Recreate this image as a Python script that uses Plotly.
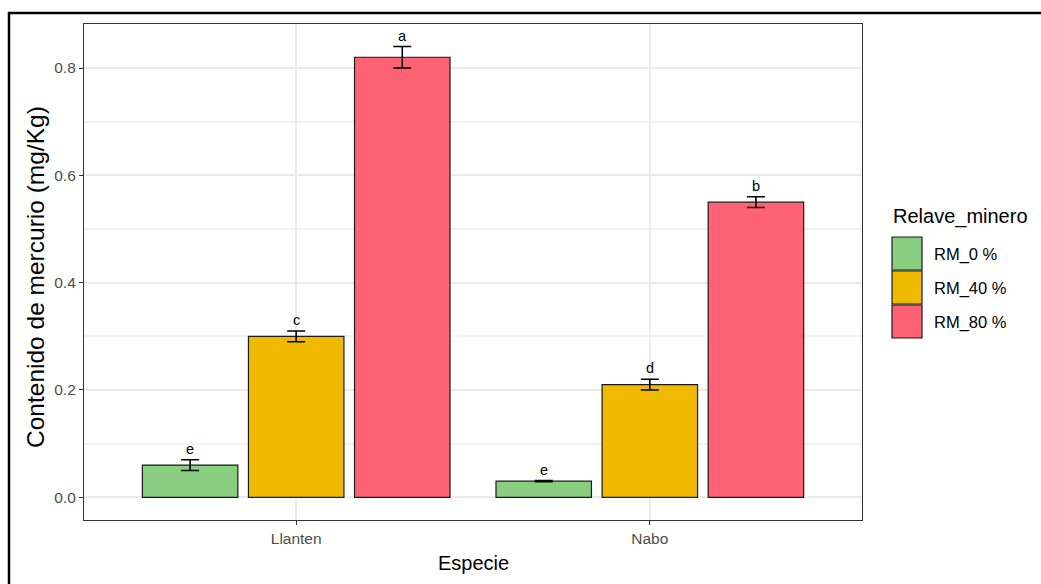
import plotly.graph_objects as go

# ---- data ----
especies = ["Llanten", "Nabo"]
grupos = ["RM_0 %", "RM_40 %", "RM_80 %"]
colores = ["#88CD80", "#F0BA00", "#FF6373"]
valores = {
    "RM_0 %": [0.06, 0.03],
    "RM_40 %": [0.30, 0.21],
    "RM_80 %": [0.82, 0.55],
}
errores = {
    "RM_0 %": [0.01, 0.001],
    "RM_40 %": [0.01, 0.01],
    "RM_80 %": [0.02, 0.01],
}
letras = {
    "RM_0 %": ["e", "e"],
    "RM_40 %": ["c", "d"],
    "RM_80 %": ["a", "b"],
}

FONT = "Liberation Sans, Arial, sans-serif"
W, H = 1041, 584
ML, MR, MT, MB = 84, 179, 24, 64
PW, PH = W - ML - MR, H - MT - MB


def px_x(px):
    return (px - ML) / PW


def px_y(py):
    return (H - MB - py) / PH


fig = go.Figure()
for g, c in zip(grupos, colores):
    fig.add_trace(go.Bar(
        x=especies, y=valores[g], name=g,
        marker=dict(color=c, line=dict(color="#1a1a1a", width=1.2)),
        error_y=dict(type="data", array=errores[g], color="black",
                     thickness=1.6, width=9),
        showlegend=False,
    ))

# significance letters above error bars
n = len(grupos)
slot = 0.9 / n
annotations = []
for j, g in enumerate(grupos):
    for i, e in enumerate(especies):
        annotations.append(dict(
            x=i + (j - (n - 1) / 2) * slot, y=valores[g][i] + errores[g][i],
            xref="x", yref="y", text=letras[g][i], showarrow=False,
            yanchor="bottom", yshift=1,
            font=dict(family=FONT, size=14.5, color="black"),
        ))

# axis titles
annotations.append(dict(x=0.5, y=px_y(563), xref="paper", yref="paper",
                        text="Especie", showarrow=False, yanchor="middle",
                        font=dict(family=FONT, size=20, color="black")))
annotations.append(dict(x=px_x(35), y=px_y(277), xref="paper", yref="paper",
                        text="Contenido de mercurio (mg/Kg)", showarrow=False,
                        textangle=-90, xanchor="center", yanchor="middle",
                        font=dict(family=FONT, size=24.5, color="black")))

# manual legend (ggplot style)
shapes = []
annotations.append(dict(x=px_x(891), y=px_y(216), xref="paper", yref="paper",
                        text="Relave_minero", showarrow=False,
                        xanchor="left", yanchor="middle",
                        font=dict(family=FONT, size=20, color="black")))
key_top, key_h, key_w = 237, 34, 30
for k, (g, c) in enumerate(zip(grupos, colores)):
    y0 = key_top + k * key_h
    shapes.append(dict(type="rect", xref="paper", yref="paper",
                       x0=px_x(892), x1=px_x(892 + key_w),
                       y0=px_y(y0 + key_h - 1), y1=px_y(y0),
                       fillcolor=c, line=dict(color="#1a1a1a", width=1.2)))
    annotations.append(dict(x=px_x(932), y=px_y(y0 + key_h / 2), xref="paper",
                            yref="paper", text=g, showarrow=False,
                            xanchor="left", yanchor="middle",
                            font=dict(family=FONT, size=16.5, color="black")))

# outer frame
shapes.append(dict(type="rect", xref="paper", yref="paper",
                   x0=px_x(9), x1=px_x(W + 20), y0=px_y(H + 20), y1=px_y(13),
                   line=dict(color="black", width=2.5), fillcolor="rgba(0,0,0,0)"))

fig.update_layout(
    width=W, height=H,
    margin=dict(l=ML, r=MR, t=MT, b=MB),
    paper_bgcolor="white", plot_bgcolor="white",
    barmode="group", bargap=0.1, bargroupgap=0.1,
    font=dict(family=FONT),
    annotations=annotations, shapes=shapes,
    showlegend=False,
)
fig.update_xaxes(
    range=[-0.6, 1.6], showgrid=True, gridcolor="#EBEBEB", gridwidth=2,
    showline=True, mirror=True, linecolor="#333333", linewidth=1.2,
    ticks="outside", ticklen=4, tickcolor="#333333", tickwidth=1,
    tickfont=dict(family=FONT, size=15.5, color="#4D4D4D"),
    zeroline=False,
)
fig.update_yaxes(
    range=[-0.0423, 0.882], dtick=0.2, tickformat=".1f",
    showgrid=True, gridcolor="#EBEBEB", gridwidth=2,
    minor=dict(dtick=0.1, showgrid=True, gridcolor="#F2F2F2", gridwidth=1.5),
    showline=True, mirror=True, linecolor="#333333", linewidth=1.2,
    ticks="outside", ticklen=4, tickcolor="#333333", tickwidth=1,
    tickfont=dict(family=FONT, size=15.5, color="#4D4D4D"),
    zeroline=False,
)

fig.write_html("out.html")
